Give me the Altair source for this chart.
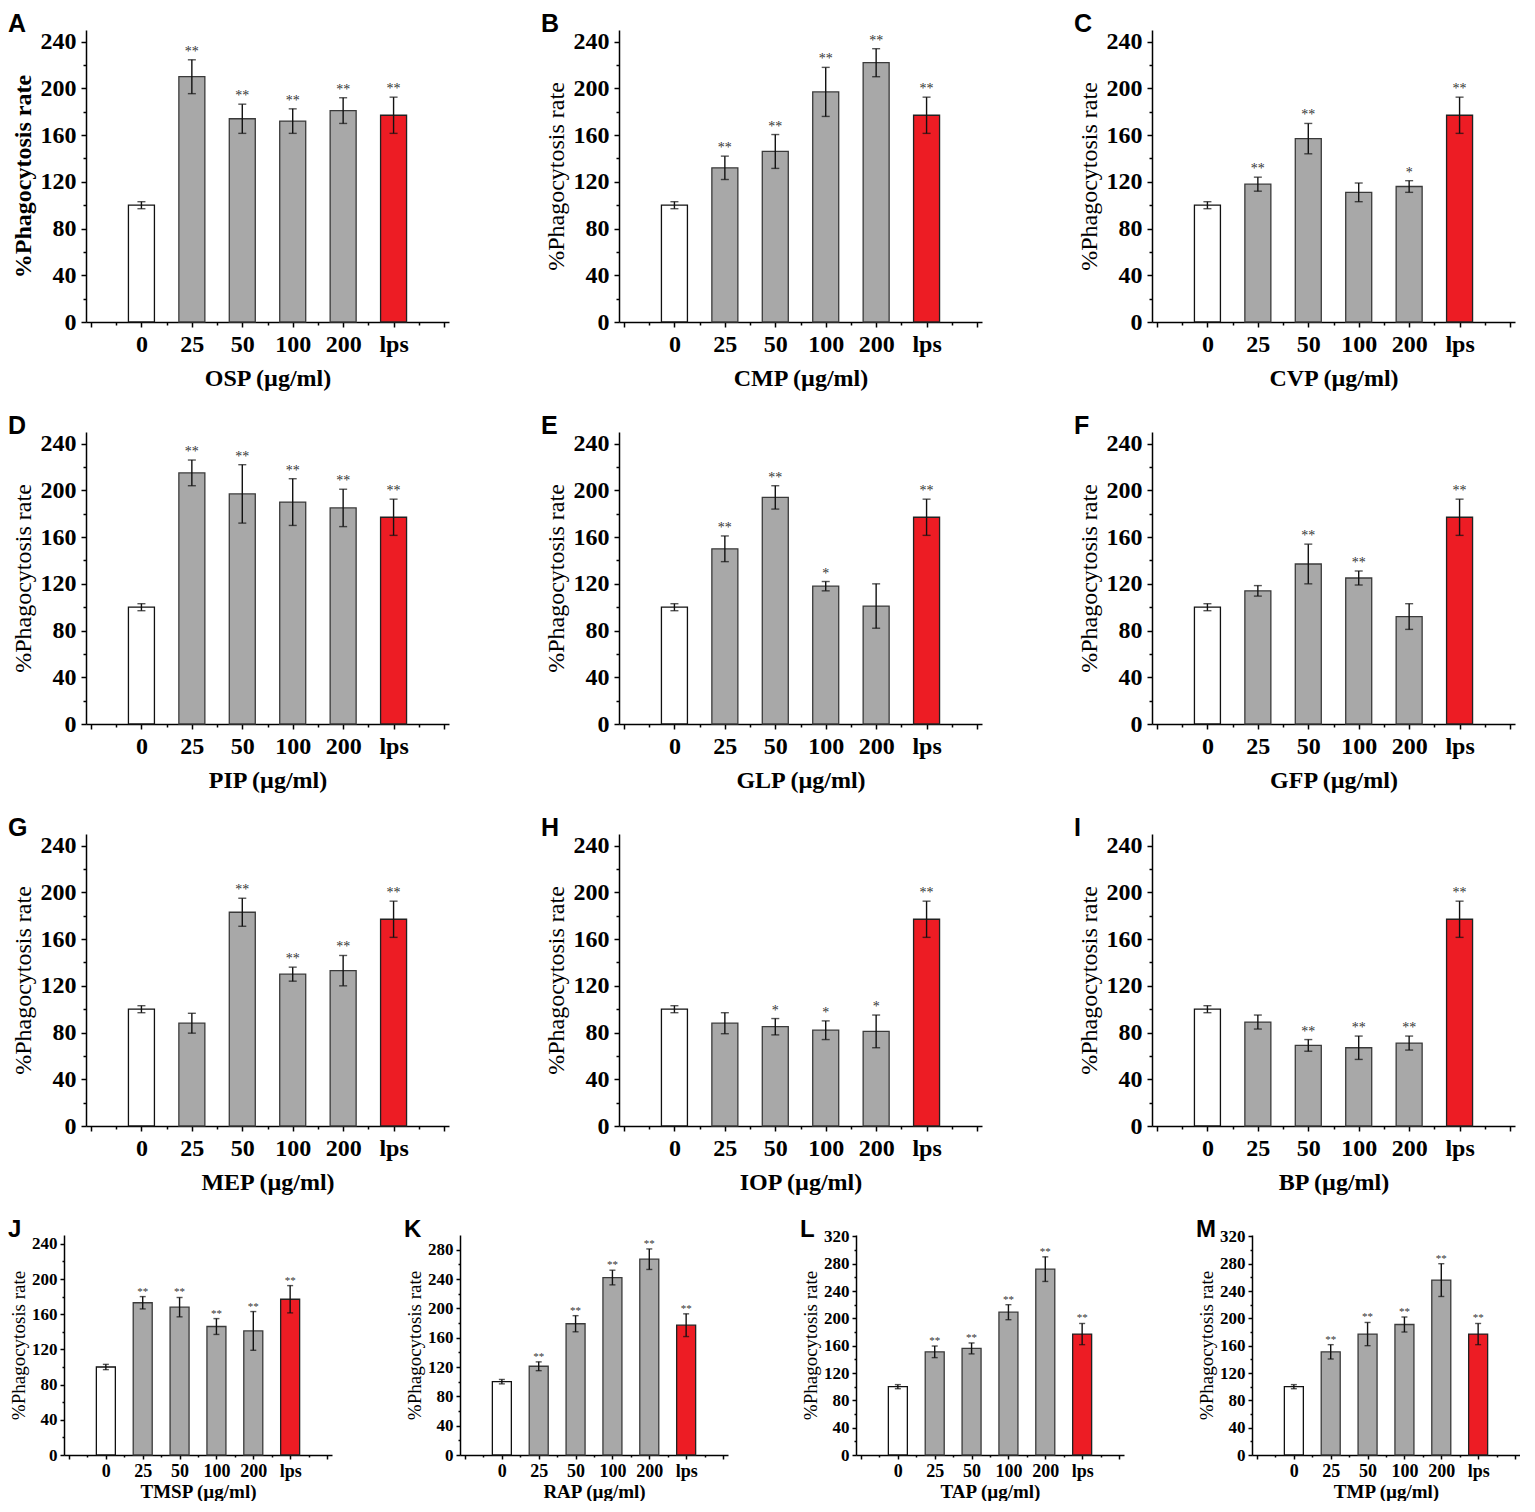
import altair as alt
import pandas as pd

categories = ["0", "25", "50", "100", "200", "lps"]
kinds = ["control", "sample", "sample", "sample", "sample", "lps"]

OSP_mean = [100, 210, 174, 172, 181, 177]
OSP_sd = [3, 14.5, 12.5, 10.5, 11, 15.5]
OSP_sig = ["", "**", "**", "**", "**", "**"]

CMP_mean = [100, 132, 146, 197, 222, 177]
CMP_sd = [3, 10, 14.5, 21, 12, 15.5]
CMP_sig = ["", "**", "**", "**", "**", "**"]

CVP_mean = [100, 118, 157, 111, 116, 177]
CVP_sd = [3, 6, 13, 8, 5, 15.5]
CVP_sig = ["", "**", "**", "", "*", "**"]

PIP_mean = [100, 215, 197, 190, 185, 177]
PIP_sd = [3, 11, 25, 20, 16, 15.5]
PIP_sig = ["", "**", "**", "**", "**", "**"]

GLP_mean = [100, 150, 194, 118, 101, 177]
GLP_sd = [3, 11, 10, 4, 19, 15.5]
GLP_sig = ["", "**", "**", "*", "", "**"]

GFP_mean = [100, 114, 137, 125, 92, 177]
GFP_sd = [3, 4.5, 17, 6, 11, 15.5]
GFP_sig = ["", "", "**", "**", "", "**"]

MEP_mean = [100, 88, 183, 130, 133, 177]
MEP_sd = [3, 8.5, 12, 6, 13, 15.5]
MEP_sig = ["", "", "**", "**", "**", "**"]

IOP_mean = [100, 88, 85, 82, 81, 177]
IOP_sd = [3, 9, 7, 8, 14, 15.5]
IOP_sig = ["", "", "*", "*", "*", "**"]

BP_mean = [100, 89, 69, 67, 71, 177]
BP_sd = [3, 6, 5, 10, 6, 15.5]
BP_sig = ["", "", "**", "**", "**", "**"]

TMSP_mean = [100, 173, 168, 146, 141, 177]
TMSP_sd = [3, 7, 11, 9, 22, 15.5]
TMSP_sig = ["", "**", "**", "**", "**", "**"]

RAP_mean = [100, 121, 179, 242, 267, 177]
RAP_sd = [3, 6, 11, 10, 14, 15.5]
RAP_sig = ["", "**", "**", "**", "**", "**"]

TAP_mean = [100, 151, 156, 209, 272, 177]
TAP_sd = [3, 8.5, 8, 11, 18, 15.5]
TAP_sig = ["", "**", "**", "**", "**", "**"]

TMP_mean = [100, 151, 177, 191, 256, 177]
TMP_sd = [3, 10.5, 17, 11, 24, 15.5]
TMP_sig = ["", "**", "**", "**", "**", "**"]

panel_letters = ["A", "B", "C", "D", "E", "F", "G", "H", "I", "J", "K", "L", "M"]
panel_names = ["OSP", "CMP", "CVP", "PIP", "GLP", "GFP", "MEP", "IOP", "BP",
               "TMSP", "RAP", "TAP", "TMP"]
panel_means = [OSP_mean, CMP_mean, CVP_mean, PIP_mean, GLP_mean, GFP_mean,
               MEP_mean, IOP_mean, BP_mean, TMSP_mean, RAP_mean, TAP_mean, TMP_mean]
panel_sds = [OSP_sd, CMP_sd, CVP_sd, PIP_sd, GLP_sd, GFP_sd,
             MEP_sd, IOP_sd, BP_sd, TMSP_sd, RAP_sd, TAP_sd, TMP_sd]
panel_sigs = [OSP_sig, CMP_sig, CVP_sig, PIP_sig, GLP_sig, GFP_sig,
              MEP_sig, IOP_sig, BP_sig, TMSP_sig, RAP_sig, TAP_sig, TMP_sig]
panel_ymax = [250, 250, 250, 250, 250, 250, 250, 250, 250, 250, 300, 322, 322]

FILL_DOMAIN = ["control", "sample", "lps"]
FILL_RANGE = ["#ffffff", "#a8a8a8", "#ed1c24"]
STROKE_RANGE = ["#111111", "#3a3a3a", "#222222"]
SERIF = "Liberation Serif"


def make_panel(idx, small, inset=0):
    letter = panel_letters[idx]
    name = panel_names[idx]
    means = panel_means[idx]
    sds = panel_sds[idx]
    sigs = panel_sigs[idx]
    ymax = panel_ymax[idx]
    df = pd.DataFrame({
        "pos": [i + 1 for i in range(len(categories))],
        "cat": categories,
        "mean": means,
        "lo": [m - s for m, s in zip(means, sds)],
        "hi": [m + s for m, s in zip(means, sds)],
        "sig": sigs,
        "kind": kinds,
    })
    if small:
        w, h = 268, 220
        tmaj, tmin = 4, 2
        ylab_fs, xlab_fs = 17, 18
        ytit_fs, xtit_fs = 19, 19
        ylab_pad, xlab_pad = 3, 3
        ytit_pad, xtit_pad = 3, 2
        bw, cap, star_fs, star_dy = 19, 6, 11, -2
        dx = -56
        let_fs = 24
    else:
        w, h = 363, 292
        tmaj, tmin = 5, 3
        ylab_fs, xlab_fs = 24, 24
        ytit_fs, xtit_fs = 24, 24
        ylab_pad, xlab_pad = 5, 5
        ytit_pad, xtit_pad = 5, 10
        bw, cap, star_fs, star_dy = 26, 8, 14, -4
        dx = -78 + inset
        let_fs = 25
    # the 320 label of L/M reaches above the plot; compensate the title position
    off = -7 if ymax < 320 else -15

    label_arr = "[" + ",".join(["''"] + ["'" + c + "'" for c in categories] + ["''"]) + "]"
    x_expr = "datum.value % 1 === 0 ? " + label_arr + "[datum.value] : ''"
    xaxis = alt.Axis(
        values=[i * 0.5 for i in range(2 * (len(categories) + 1) + 1)],
        labelExpr=x_expr,
        tickSize={"condition": {"test": "datum.value % 1 === 0", "value": tmaj}, "value": tmin},
        labelFlush=False, labelOverlap=False,
        labelFont=SERIF, labelFontWeight="bold", labelFontSize=xlab_fs,
        labelPadding=xlab_pad,
        titleFont=SERIF, titleFontWeight="bold", titleFontSize=xtit_fs,
        titlePadding=xtit_pad,
    )
    yvals = list(range(0, ymax, 20))
    yaxis = alt.Axis(
        values=yvals,
        labelExpr="datum.value % 40 === 0 ? datum.label : ''",
        tickSize={"condition": {"test": "datum.value % 40 === 0", "value": tmaj}, "value": tmin},
        labelOverlap=False, labelFlush=False,
        labelFont=SERIF, labelFontWeight="bold", labelFontSize=ylab_fs,
        labelPadding=ylab_pad,
        titleFont=SERIF, titleFontWeight=("bold" if idx == 0 else "normal"),
        titleFontSize=ytit_fs, titlePadding=ytit_pad,
        offset=-inset,
    )
    if inset:
        xscale = alt.Scale(domain=[0, len(categories) + 1], nice=False, zero=False,
                           rangeMin=inset)
    else:
        xscale = alt.Scale(domain=[0, len(categories) + 1], nice=False, zero=False)
    yscale = alt.Scale(domain=[0, ymax], nice=False)
    xtitle = name + " (µg/ml)"
    ytitle = "%Phagocytosis rate"

    X = alt.X("pos:Q", scale=xscale, axis=xaxis, title=xtitle)

    def Y(field):
        return alt.Y(field + ":Q", scale=yscale, axis=yaxis, title=ytitle)

    base = alt.Chart(df)
    bars = base.mark_bar(width=bw, strokeWidth=1.3).encode(
        x=X, y=Y("mean"),
        fill=alt.Fill("kind:N", scale=alt.Scale(domain=FILL_DOMAIN, range=FILL_RANGE), legend=None),
        stroke=alt.Stroke("kind:N", scale=alt.Scale(domain=FILL_DOMAIN, range=STROKE_RANGE), legend=None),
    )
    rule = base.mark_rule(color="#111111", strokeWidth=1.4).encode(
        x=X, y=Y("lo"), y2="hi:Q")
    cap_hi = base.mark_tick(orient="horizontal", size=cap, thickness=1.4, color="#111111").encode(
        x=X, y=Y("hi"))
    cap_lo = base.mark_tick(orient="horizontal", size=cap, thickness=1.4, color="#111111").encode(
        x=X, y=Y("lo"))
    stars = base.transform_filter(alt.datum.sig != "").mark_text(
        baseline="alphabetic", dy=star_dy, fontSize=star_fs, font=SERIF,
        color="#333333").encode(x=X, y=Y("hi"), text="sig:N")

    return alt.layer(bars, rule, cap_hi, cap_lo, stars).properties(
        width=w + inset, height=h,
        title=alt.TitleParams(
            text=letter, anchor="start", frame="group", dx=dx, offset=off,
            fontSize=let_fs, font="Liberation Sans", fontWeight="bold",
            color="black", baseline="top"),
    )


rows = []
for r in range(3):
    rows.append(alt.hconcat(
        *[make_panel(r * 3 + c, False, inset=(22 if c == 0 else 0)) for c in range(3)],
        spacing=92))
rows.append(alt.hconcat(*[make_panel(9 + c, True) for c in range(4)], spacing=72))

chart = alt.vconcat(*rows, spacing=23).properties(
    padding={"top": 3, "left": 0, "right": 0, "bottom": 0}, background="white"
).configure_view(stroke=None).configure_axis(
    grid=False, domainColor="black", domainWidth=1.5, tickColor="black",
    tickWidth=1.5, labelColor="black", titleColor="black",
)

chart.save("out.html", embed_options={"renderer": "svg", "actions": False})
